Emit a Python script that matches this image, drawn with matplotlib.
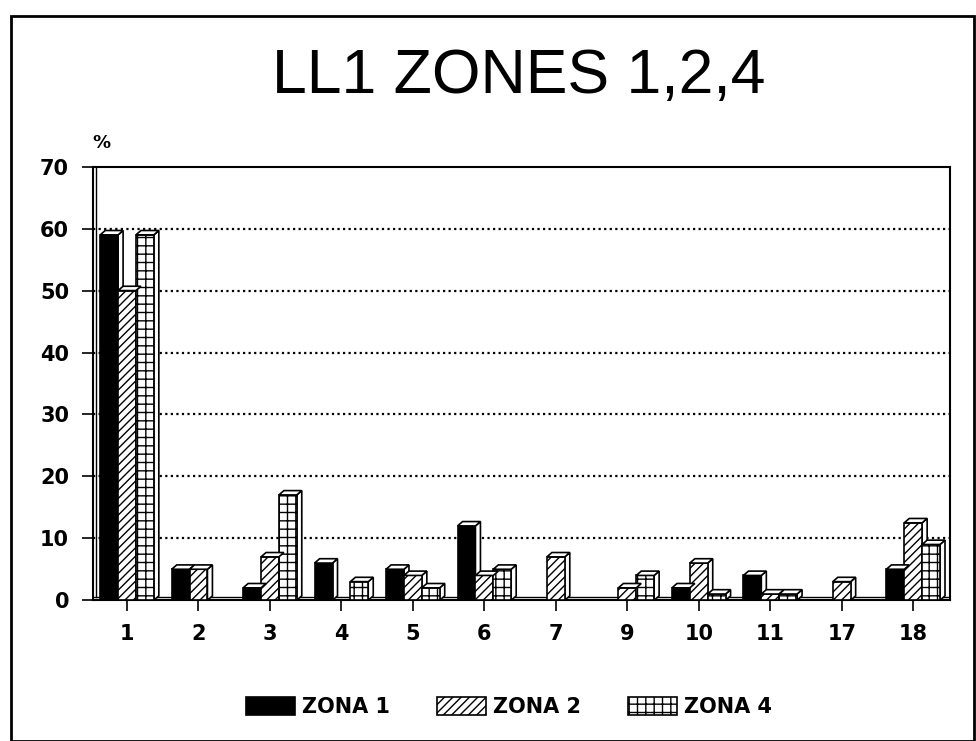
import matplotlib
matplotlib.use("Agg")
import matplotlib.pyplot as plt
from matplotlib.patches import Polygon, Rectangle
import numpy as np

plt.rcParams['font.family'] = ['Liberation Sans', 'DejaVu Sans']
plt.rcParams['hatch.linewidth'] = 1.0

categories = ['1', '2', '3', '4', '5', '6', '7', '9', '10', '11', '17', '18']
zona1 = [59, 5, 2, 6, 5, 12, 0, 0, 2, 4, 0, 5]
zona2 = [50, 5, 7, 0, 4, 4, 7, 2, 6, 1, 3, 12.5]
zona4 = [59, 0, 17, 3, 2, 5, 0, 4, 1, 1, 0, 9]
series_names = ['ZONA 1', 'ZONA 2', 'ZONA 4']
yticks = [0, 10, 20, 30, 40, 50, 60, 70]

bold_font = dict(family='DejaVu Sans', weight='bold')

fig = plt.figure(figsize=(9.76, 7.41), dpi=100)
ax = fig.add_axes([0.095, 0.19, 0.878, 0.585])

x = np.arange(len(categories))
w = 0.25
dx, dy = 0.07, 0.7   # depth offset of the pseudo-3D bar tops

styles = [
    dict(facecolor='black', hatch=None),
    dict(facecolor='white', hatch='////'),
    dict(facecolor='white', hatch='++'),
]
offsets = [-w, 0.0, w]

handles = []
for vals, st, off, name in zip([zona1, zona2, zona4], styles, offsets, series_names):
    bars = ax.bar(x + off, vals, width=w, facecolor=st['facecolor'],
                  hatch=st['hatch'], edgecolor='black', linewidth=1.2,
                  label=name, zorder=3)
    handles.append(bars)
    for b in bars:
        h = b.get_height()
        if h <= 0:
            continue
        x0, x1 = b.get_x(), b.get_x() + b.get_width()
        top = Polygon([(x0, h), (x0 + dx, h + dy), (x1 + dx, h + dy), (x1, h)],
                      closed=True, facecolor='white', edgecolor='black',
                      linewidth=1.2, zorder=4)
        side = Polygon([(x1, 0), (x1 + dx, dy), (x1 + dx, h + dy), (x1, h)],
                       closed=True, facecolor='white', edgecolor='black',
                       linewidth=1.2, zorder=2.9)
        ax.add_patch(side)
        ax.add_patch(top)

ax.set_xlim(-0.48, 11.51)
ax.set_ylim(0, 70)
ax.set_yticks(yticks)
ax.set_yticklabels([str(v) for v in yticks], fontsize=15, **bold_font)
ax.set_xticks(x)
ax.set_xticklabels(categories, fontsize=15, **bold_font)
ax.tick_params(axis='x', length=8, width=1.2, pad=9)
ax.tick_params(axis='y', length=8, width=1.2, pad=9)

for v in yticks[1:-1]:
    ax.axhline(v, color='black', linestyle=(0, (1, 1.5)), linewidth=1.6, zorder=1)
ax.axhline(0.5, color='black', linewidth=1.0, zorder=1)

for s in ax.spines.values():
    s.set_linewidth(1.5)

# double line along the left wall
ax.plot([-0.44, -0.44], [0.5, 70], color='black', linewidth=1.0, zorder=2,
        clip_on=False)

fig.text(0.104, 0.800, '%', fontsize=13, **bold_font, ha='center')
fig.text(0.531, 0.8745, 'LL1 ZONES 1,2,4', fontsize=45, ha='center', va='baseline')

leg = fig.legend(handles=handles, labels=series_names, loc='center',
                 bbox_to_anchor=(0.5215, 0.046), ncol=3, frameon=False,
                 prop=dict(size=15, **bold_font), handlelength=2.35,
                 handleheight=1.0, columnspacing=2.25, handletextpad=0.35)

fig.patches.append(Rectangle((0.011, 0.0), 0.987, 0.978, transform=fig.transFigure,
                             fill=False, edgecolor='black', linewidth=2.0))

fig.savefig('out.png', dpi=100, facecolor='white')
